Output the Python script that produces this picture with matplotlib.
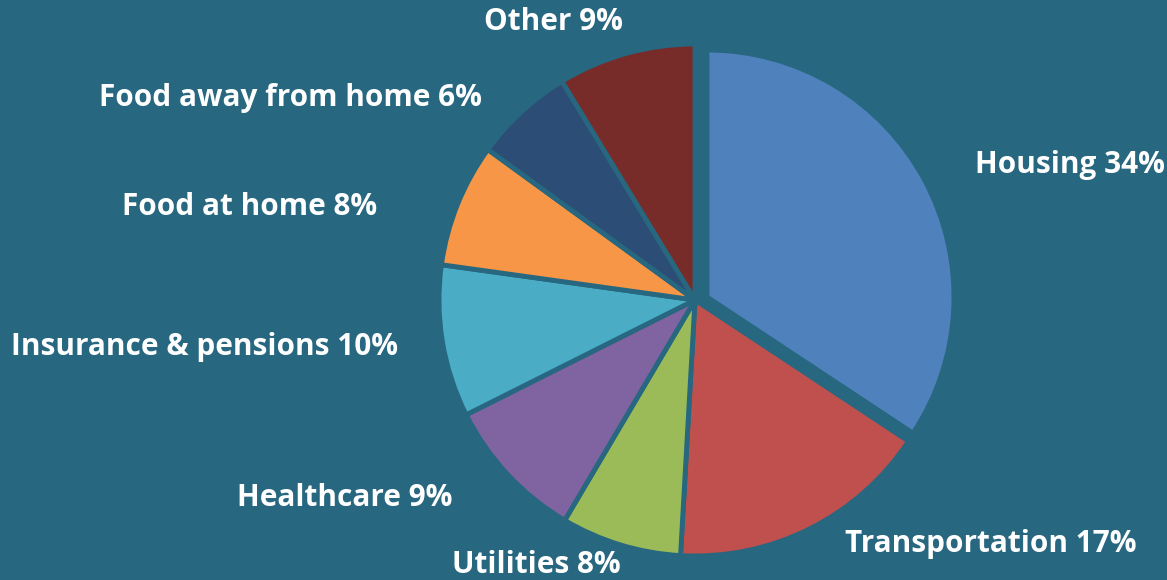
import matplotlib
matplotlib.use("Agg")
import matplotlib.pyplot as plt

categories = ["Housing", "Transportation", "Utilities", "Healthcare",
              "Insurance & pensions", "Food at home", "Food away from home", "Other"]
# shares (%); labels show them rounded
shares = [34.3, 16.6, 7.6, 9.1, 9.6, 7.8, 6.3, 8.7]
colors = ["#4F81BD", "#C0504D", "#9BBB59", "#8064A2",
          "#4BACC6", "#F79646", "#2C4D75", "#772C2A"]

BG = "#27677F"
W, H = 1167, 580

fig = plt.figure(figsize=(W / 100, H / 100), dpi=100, facecolor=BG)
ax = fig.add_axes([0, 0, 1, 1])
ax.set_facecolor(BG)

cx, cy, R = 695, H - 300, 256
wedges, _ = ax.pie(shares, colors=colors, startangle=90, counterclock=False,
                   center=(cx, cy), radius=R,
                   wedgeprops=dict(edgecolor=BG, linewidth=3.5),
                   frame=True)
# exploded Housing slice (pulled out, slightly smaller as in the original)
wedges[0].set_center((cx + 12, cy + 3))
wedges[0].set_radius(R - 9)

ax.set_xlim(0, W)
ax.set_ylim(0, H)
ax.set_aspect("equal")
ax.axis("off")

# label anchor layout (pixel coords from top-left) and alignment
label_layout = [
    (975, 165, "left"),
    (845, 544, "left"),
    (536, 565, "center"),
    (452, 498, "right"),
    (398, 347, "right"),
    (377, 207, "right"),
    (482, 98, "right"),
    (553, 22, "center"),
]
for cat, v, (x, y, ha) in zip(categories, shares, label_layout):
    ax.text(x, H - y, f"{cat} {round(v)}%", ha=ha, va="center", color="white",
            fontsize=21.4, fontweight="bold", family=["Open Sans", "DejaVu Sans"])

fig.savefig("out.png", dpi=100, facecolor=BG)
